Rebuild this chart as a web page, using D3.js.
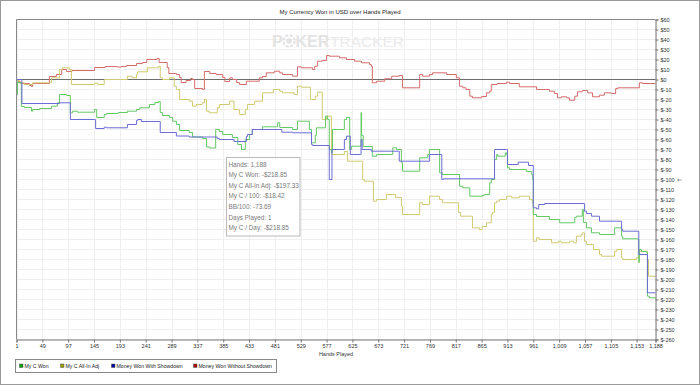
<!DOCTYPE html>
<html>
<head>
<meta charset="utf-8">
<script src="https://cdnjs.cloudflare.com/ajax/libs/d3/7.8.5/d3.min.js"></script>
<style>
  body { margin: 0; background: #fff; }
  svg text { font-family: "Liberation Sans", Arial, sans-serif; }
</style>
</head>
<body>
<div id="chart"></div>
<script>
// values: [hand, dollars]
var myCWon = [[1,0],[2,-15],[3,-3],[9,-3],[10,-27],[16,-28],[29,-31.7],[31,-30],[44,-29],[66,-26.7],[77,-23.3],[81,-15],[94,-16],[101,-33.3],[105,-31.7],[114,-32.7],[146,-30],[150,-38],[164,-35],[168,-34],[190,-33],[207,-31.7],[224,-30],[230,-28.3],[248,-25],[258,-23],[265,-22],[268,-33],[272,-36],[285,-38],[291,-41.7],[298,-45],[304,-51],[322,-53],[328,-57.5],[347,-59],[354,-67.5],[360,-68.5],[371,-50],[378,-52],[384,-55],[402,-58],[412,-65],[419,-70],[426,-60],[434,-55],[439,-50],[458,-47.3],[486,-43.3],[490,-48],[514,-50],[523,-41.7],[545,-50],[549,-63.3],[556,-56],[558,-48.3],[575,-36.7],[579,-40],[582,-70],[586,-73],[588,-50],[610,-40],[614,-38],[620,-70],[623,-66.7],[640,-66],[641,-33],[642,-56],[645,-67],[662,-76.7],[670,-75],[700,-68.3],[707,-70],[716,-83.3],[718,-91.7],[750,-78.3],[765,-75],[768,-70],[787,-93.3],[792,-95],[824,-106.7],[830,-108.3],[843,-116.7],[866,-116],[870,-115],[880,-103.3],[883,-100],[889,-80],[893,-75],[895,-76.7],[909,-73.3],[911,-75],[913,-88.3],[917,-90],[948,-92],[958,-95],[960,-100],[961,-135],[967,-137],[991,-140],[1010,-143.3],[1038,-138],[1041,-136.7],[1052,-130],[1054,-143],[1060,-148.3],[1069,-153.3],[1084,-155],[1112,-148.3],[1125,-156.7],[1127,-159.3],[1155,-160],[1157,-183],[1158,-170],[1162,-172],[1171,-173],[1173,-216.7],[1177,-218.3],[1188,-218.85]];

var myCAllInAdj = [[1,0],[3,0],[6,-3.3],[15,-5],[31,-3.3],[62,-3],[66,1.7],[81,10],[86,11.7],[99,10],[103,-5],[146,-3.5],[152,-5],[164,0],[207,3.3],[216,1.7],[224,5],[226,7.7],[244,11.7],[265,13.3],[268,1.7],[272,0],[285,1.7],[294,-6.7],[298,-10],[304,-20],[322,-21.7],[328,-26.7],[335,-25],[346,-23.3],[350,-20],[354,-31.7],[359,-33.3],[374,-28.3],[378,-25],[397,-21.7],[405,-30],[415,-35],[426,-30],[430,-25],[443,-21.7],[458,-13.3],[478,-10],[490,-11.7],[495,-13.3],[517,-15],[523,-6.7],[530,-7.7],[547,-20],[556,-16.7],[560,-12.7],[569,-40],[577,-36.7],[586,-75],[610,-72],[616,-81.7],[642,-81.7],[644,-100],[647,-101.7],[664,-121.7],[670,-120],[688,-115],[705,-118],[716,-126.7],[718,-135],[750,-123.3],[755,-125],[768,-116.7],[787,-120],[792,-123.3],[822,-133],[826,-136.7],[843,-136.7],[848,-148.3],[861,-150],[866,-147],[874,-143.3],[883,-135],[885,-133],[889,-123.3],[893,-121.7],[898,-120],[911,-116.7],[921,-118.3],[935,-116.7],[954,-120],[959,-123.3],[961,-161.7],[967,-158.3],[972,-160],[995,-163.3],[1008,-161.7],[1013,-163.3],[1028,-161.7],[1036,-163.3],[1041,-156.7],[1050,-155],[1052,-153.3],[1056,-161.7],[1060,-165],[1073,-170],[1084,-175],[1088,-176.7],[1112,-171.7],[1116,-170],[1125,-178.3],[1127,-180],[1153,-178],[1158,-171.7],[1171,-171.7],[1173,-180],[1175,-196.7],[1188,-197.33]];

var wonWithShowdown = [[1,0],[10,0],[11,-24],[80,-24],[81,-23.3],[101,-40],[146,-40],[148,-49],[164,-47.7],[168,-48.3],[207,-45],[224,-41],[226,-40],[233,-42],[266,-42],[268,-53],[298,-56.5],[322,-57.5],[374,-59],[378,-60],[397,-60],[405,-62],[426,-62],[428,-57],[430,-55],[439,-50],[490,-50],[494,-52.7],[514,-53.3],[549,-65],[551,-66],[582,-100],[587,-70],[606,-70],[610,-60],[614,-56.7],[621,-75],[640,-75],[641,-60],[643,-70],[660,-71.7],[712,-81.7],[768,-75],[791,-100],[794,-99.3],[888,-99.3],[889,-70],[911,-70],[913,-85],[933,-82.7],[952,-86],[961,-128.3],[967,-129.3],[971,-125],[982,-124],[1056,-131.7],[1060,-134],[1069,-136.7],[1084,-141.7],[1125,-150],[1127,-151.7],[1157,-175],[1173,-213.3],[1188,-213.3]];

var wonWithoutShowdown = [[1,0],[4,-2],[8,-4],[25,-6],[29,-7],[31,-4],[48,-4],[62,3],[75,5],[85,10],[94,8],[104,9],[146,12],[166,13],[187,12.5],[196,13],[205,14],[224,16],[235,17],[243,20],[262,21],[266,17],[281,12],[284,6],[298,5],[304,2],[307,-3],[316,-1],[324,1],[328,0],[332,-9],[347,-10],[350,8],[360,6],[372,5],[384,2],[388,-2],[397,1.7],[402,0],[410,-3],[415,-5],[428,-1.7],[452,1.7],[458,3],[465,6.7],[480,8.3],[490,6.7],[495,5],[514,3.3],[523,12.7],[530,11.7],[551,10],[555,13.3],[560,18.3],[569,19],[577,24],[582,23.3],[601,21.7],[614,20],[629,18.3],[642,16.7],[657,15],[660,13.3],[662,-3.3],[670,-1.7],[685,0.7],[698,3.3],[712,4],[718,-8.3],[750,5],[755,3.3],[768,5],[774,6.7],[800,5],[818,1.7],[824,-6.7],[830,-8.3],[836,-10],[843,-16.7],[848,-18.3],[865,-17],[874,-13.3],[880,-11.7],[883,-5],[894,-4],[911,-2.7],[917,-4],[935,-7.3],[967,-10],[991,-11.7],[1000,-14],[1006,-18.3],[1013,-17.3],[1023,-18.3],[1028,-20.7],[1038,-16.7],[1043,-12.3],[1052,-11],[1062,-13.3],[1071,-17.3],[1084,-15.7],[1093,-13.3],[1106,-14],[1114,-9],[1118,-8.3],[1158,-3.3],[1164,-4],[1188,-4]];

var seriesNames = ["My C Won", "My C All-In Adj", "Money Won With Showdown", "Money Won Without Showdown"];
var seriesData = [myCWon, myCAllInAdj, wonWithShowdown, wonWithoutShowdown];
var lineColors = ["#64c864", "#d0ca72", "#6c6cd4", "#d46c6c"];
var legendColors = ["#00a000", "#999900", "#000099", "#aa0000"];

var xTicks = d3.range(1, 1188, 48).concat([1188]);
var yTicks = d3.range(-260, 61, 10);

var tooltipLines = ["Hands: 1,188", "My C Won: -$218.85", "My C All-In Adj: -$197.33",
  "My C / 100: -$18.42", "BB/100: -73.69", "Days Played: 1", "My C / Day: -$218.85"];

var width = 700, height = 385;
var plot = {left: 16.5, right: 655.5, top: 19.5, bottom: 339.5};

var svg = d3.select("#chart").append("svg")
  .attr("width", width)
  .attr("height", height);

// outer frame
svg.append("rect")
  .attr("x", 0.5).attr("y", 0.5)
  .attr("width", width - 1).attr("height", height - 1)
  .attr("fill", "#fff").attr("stroke", "#9a9a9a");

var x = d3.scaleLinear().domain([1, 1188]).range([plot.left, plot.right]);
var y = d3.scaleLinear().domain([-260, 60]).range([plot.bottom, plot.top]);

svg.append("text")
  .attr("x", 340).attr("y", 14)
  .attr("text-anchor", "middle")
  .attr("font-size", 6)
  .attr("fill", "#222")
  .text("My Currency Won in USD over Hands Played");

// grid
svg.append("g").selectAll("line")
  .data(yTicks)
  .enter().append("line")
    .attr("x1", plot.left).attr("x2", plot.right)
    .attr("y1", function(d) { return y(d); })
    .attr("y2", function(d) { return y(d); })
    .attr("stroke", "#efefef");

svg.append("g").selectAll("line")
  .data(xTicks)
  .enter().append("line")
    .attr("x1", function(d) { return Math.round(x(d)) + 0.5; })
    .attr("x2", function(d) { return Math.round(x(d)) + 0.5; })
    .attr("y1", plot.top).attr("y2", plot.bottom)
    .attr("stroke", "#efefef");

// watermark
var wm = svg.append("g").attr("fill", "#e3e3e3");
wm.append("text").attr("x", 272).attr("y", 47).attr("font-size", 16)
  .attr("font-weight", "bold").text("P");
wm.append("circle").attr("cx", 289).attr("cy", 41).attr("r", 5.6)
  .attr("fill", "none").attr("stroke", "#e3e3e3").attr("stroke-width", 2.2)
  .attr("stroke-dasharray", "3,1.4");
wm.append("circle").attr("cx", 289).attr("cy", 41).attr("r", 2.8);
wm.append("text").attr("x", 295.5).attr("y", 47).attr("font-size", 16)
  .attr("font-weight", "bold").text("KER");
wm.append("text").attr("x", 330).attr("y", 47).attr("font-size", 15.5)
  .attr("fill", "#ebebeb").text("TRACKER");

// zero line
svg.append("line")
  .attr("x1", plot.left).attr("x2", plot.right)
  .attr("y1", y(0)).attr("y2", y(0))
  .attr("stroke", "#6e6e6e");

// series lines
var line = d3.line()
  .x(function(d) { return x(d[0]); })
  .y(function(d) { return y(d[1]); })
  .curve(d3.curveStepAfter);

[3, 1, 0, 2].forEach(function(i) {
  svg.append("path")
    .datum(seriesData[i])
    .attr("d", line)
    .attr("fill", "none")
    .attr("stroke", lineColors[i])
    .attr("stroke-width", 1);
});

// plot border left/top
svg.append("path")
  .attr("d", "M" + plot.left + "," + plot.bottom + "V" + plot.top + "H" + plot.right)
  .attr("fill", "none").attr("stroke", "#8a8a8a");

// axes
var xAxis = d3.axisBottom(x)
  .tickValues(xTicks)
  .tickSize(3)
  .tickFormat(d3.format(","));

var yAxis = d3.axisRight(y)
  .tickValues(yTicks)
  .tickSize(3)
  .tickPadding(2)
  .tickFormat(function(d) { return "$" + d; });

var gx = svg.append("g")
  .attr("transform", "translate(0," + plot.bottom + ")")
  .call(xAxis);
var gy = svg.append("g")
  .attr("transform", "translate(" + plot.right + ",0)")
  .call(yAxis);

[gx, gy].forEach(function(g) {
  g.select(".domain").attr("stroke", "#777");
  g.selectAll(".tick line").attr("stroke", "#777");
  g.selectAll(".tick text").attr("font-size", 5.5).attr("fill", "#333")
    .attr("font-family", "Liberation Sans, Arial, sans-serif");
});
gx.selectAll(".tick text").attr("dy", "0.5em");

// current value marker next to $-100
svg.append("text")
  .attr("x", 677).attr("y", y(-100) + 2)
  .attr("font-size", 5.5).attr("fill", "#555")
  .text("\u21d0");

svg.append("text")
  .attr("x", 336).attr("y", 356)
  .attr("text-anchor", "middle")
  .attr("font-size", 5.5).attr("fill", "#333")
  .text("Hands Played");

// legend
var legend = svg.append("g");
legend.append("rect")
  .attr("x", 15.5).attr("y", 359.5)
  .attr("width", 261).attr("height", 13)
  .attr("fill", "#fff").attr("stroke", "#888");

var legendX = [19.5, 60.5, 111.5, 193.5];
seriesNames.forEach(function(name, i) {
  legend.append("rect")
    .attr("x", legendX[i]).attr("y", 364)
    .attr("width", 3.5).attr("height", 3.5)
    .attr("fill", legendColors[i]).attr("stroke", "#555").attr("stroke-width", 0.5);
  legend.append("text")
    .attr("x", legendX[i] + 5).attr("y", 368)
    .attr("font-size", 5.2).attr("fill", "#222")
    .text(name);
});

// summary box
var tip = svg.append("g");
tip.append("rect")
  .attr("x", 226.5).attr("y", 157.5)
  .attr("width", 73.5).attr("height", 78.5)
  .attr("fill", "#fff").attr("fill-opacity", 0.92)
  .attr("stroke", "#bbb");

tip.selectAll("text")
  .data(tooltipLines)
  .enter().append("text")
    .attr("x", 228.5)
    .attr("y", function(d, i) { return 166.5 + i * 10.65; })
    .attr("font-size", 6.4)
    .attr("fill", "#7a7a7a")
    .text(function(d) { return d; });
</script>
</body>
</html>
